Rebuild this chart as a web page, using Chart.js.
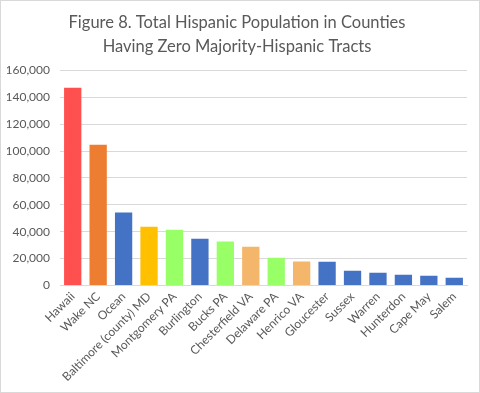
<!DOCTYPE html>
<html lang="en">
<head>
  <meta charset="UTF-8" />
  <title>Figure 8. Total Hispanic Population</title>
  <script src="https://cdn.jsdelivr.net/npm/chart.js"></script>
  <style>
    html, body { margin: 0; padding: 0; background: #fff; }
    #wrap { width: 480px; height: 393px; box-sizing: border-box; border: 1px solid #d9d9d9; background: #fff; }
    canvas { display: block; }
  </style>
</head>
<body>
  <div id="wrap"><canvas id="popChart" width="478" height="391"></canvas></div>

  <script>
    const counties = ['Hawaii', 'Wake NC', 'Ocean', 'Baltimore (county) MD', 'Montgomery PA', 'Burlington',
      'Bucks PA', 'Chesterfield VA', 'Delaware PA', 'Henrico VA', 'Gloucester', 'Sussex', 'Warren',
      'Hunterdon', 'Cape May', 'Salem'];
    const hispanicPop = [147100, 104800, 54200, 43700, 41500, 34800, 32600, 28800, 20600, 17700, 17600,
      10900, 9400, 8000, 7200, 5700];
    const barColors = ['#FF5050', '#ED7D31', '#4472C4', '#FFC000', '#99FF66', '#4472C4', '#99FF66', '#F4B66A',
      '#99FF66', '#F4B66A', '#4472C4', '#4472C4', '#4472C4', '#4472C4', '#4472C4', '#4472C4'];
    const titleLines = ['Figure 8. Total Hispanic Population in Counties', 'Having Zero Majority-Hispanic Tracts'];

    const ctx = document.getElementById('popChart').getContext('2d');
    new Chart(ctx, {
      type: 'bar',
      data: {
        labels: counties,
        datasets: [{
          data: hispanicPop,
          backgroundColor: barColors,
          categoryPercentage: 1,
          barPercentage: 0.68
        }]
      },
      options: {
        responsive: false,
        animation: false,
        layout: { padding: { left: 6, right: 12, top: 4, bottom: 4 } },
        plugins: {
          legend: { display: false },
          tooltip: { enabled: false },
          title: {
            display: true,
            text: titleLines,
            color: '#595959',
            font: { family: 'Lato', size: 16.5, weight: 'normal', lineHeight: 1.44 },
            padding: { top: 6, bottom: 12 }
          }
        },
        scales: {
          x: {
            grid: { display: false, drawTicks: false },
            border: { display: true, color: '#d9d9d9' },
            ticks: {
              color: '#595959',
              font: { family: 'Lato', size: 12 },
              minRotation: 45,
              maxRotation: 45,
              autoSkip: false,
              padding: 4
            }
          },
          y: {
            min: 0,
            max: 160000,
            grid: { color: '#d9d9d9', drawTicks: false },
            border: { display: false },
            afterFit: axis => { axis.width = 53; },
            ticks: {
              stepSize: 20000,
              color: '#595959',
              font: { family: 'Lato', size: 12 },
              padding: 10,
              callback: v => v.toLocaleString('en-US')
            }
          }
        }
      }
    });
  </script>
</body>
</html>
